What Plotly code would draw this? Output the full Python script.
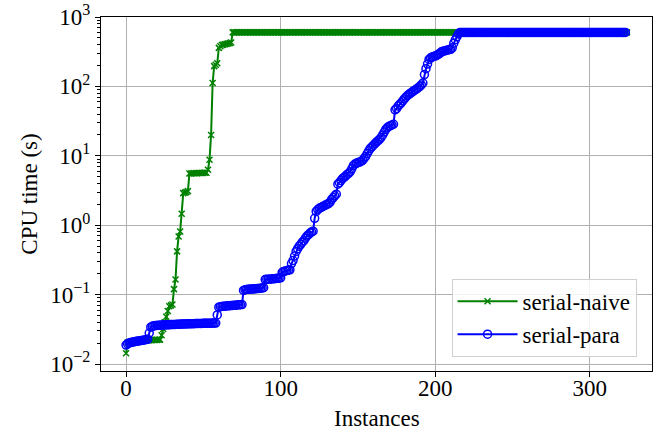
import plotly.graph_objects as go

# serial-naive: sorted CPU times (s), one per instance index
naive_times = (
    [0.0143]
    + [0.0205, 0.0207, 0.0209, 0.0210, 0.0211, 0.0212, 0.0213, 0.0214, 0.0215, 0.0216, 0.0217,
       0.0218, 0.0219, 0.0220, 0.0221, 0.0221, 0.0222, 0.0222, 0.0223, 0.0223, 0.0224, 0.0225]
    + [0.026, 0.032, 0.040, 0.048, 0.058, 0.068, 0.070, 0.072, 0.12, 0.165, 0.42, 0.69, 0.81, 1.46,
       2.9, 2.95, 3.0, 3.1]
    + [5.55, 5.58, 5.6, 5.6, 5.62, 5.63, 5.65, 5.65, 5.66, 5.68, 5.7, 5.72]
    + [6.3, 8.8, 20, 112, 196, 205, 215, 359, 380, 395, 400, 405, 410, 415, 420, 430]
    + [600] * 256
)

# serial-para: sorted CPU times (s)
para_times = (
    [0.0188, 0.0196, 0.0201, 0.0204, 0.0207, 0.0209, 0.0211, 0.0213, 0.0215, 0.0217, 0.0219,
     0.0221, 0.0223, 0.0225, 0.0227, 0.028]
    + [0.0340, 0.0350, 0.0355, 0.0358, 0.0360, 0.0362, 0.0363, 0.0364, 0.0365, 0.0366, 0.0367,
       0.0368, 0.0369, 0.0370, 0.0371, 0.0372, 0.0373, 0.0374, 0.0375, 0.0376, 0.0377, 0.0378,
       0.0378, 0.0379, 0.0380, 0.0380, 0.0381, 0.0382, 0.0382, 0.0383, 0.0384, 0.0384, 0.0385,
       0.0385, 0.0386, 0.0386, 0.0387, 0.0387, 0.0388, 0.0388, 0.0389, 0.0389, 0.0390]
    + [0.051, 0.066, 0.067, 0.0675, 0.068, 0.0683, 0.0686, 0.069, 0.0693, 0.0696, 0.070, 0.0703,
       0.0706, 0.071, 0.0713, 0.0716, 0.072]
    + [0.115, 0.118, 0.119, 0.1195, 0.120, 0.1205, 0.121, 0.1215, 0.122, 0.1225, 0.123, 0.124,
       0.125, 0.126]
    + [0.165, 0.166, 0.167, 0.167, 0.168, 0.169, 0.170, 0.171, 0.172, 0.173, 0.175]
    + [0.21, 0.215, 0.22, 0.222, 0.225, 0.228, 0.28, 0.31, 0.36, 0.42, 0.46, 0.50, 0.53, 0.57,
       0.60, 0.65, 0.70, 0.73, 0.77, 0.80, 0.82, 1.26, 1.58, 1.68, 1.75, 1.80, 1.85, 1.90, 1.95,
       2.0, 2.05, 2.15, 2.35, 2.5, 2.65, 2.8, 3.9, 4.1, 4.4, 4.7, 4.9, 5.1, 5.4, 5.6, 5.9, 6.5,
       7.2, 7.6, 7.8, 8.0, 8.1, 8.3, 8.6, 9.2, 9.8, 10.8, 11.8, 12.8, 13.5, 14.2, 15.0, 15.8,
       16.5, 17.3, 18.5, 20.0, 22.0, 24.0, 25.5, 26.5, 27.2, 27.8, 28.5, 46, 48, 52, 55, 58, 62,
       66, 70, 74, 77, 80, 83, 86, 89, 92, 96, 100, 105, 112, 148, 180, 210, 245, 258, 265, 270,
       274, 280, 290, 300, 315, 320, 325, 330, 335, 338, 342, 360, 420, 470, 520, 570]
    + [600] * 108
)

naive_x = list(range(len(naive_times)))
para_x = list(range(len(para_times)))

x_ticks = [0, 100, 200, 300]
y_ticks = [1e-2, 1e-1, 1e0, 1e1, 1e2, 1e3]
y_ticktext = ["10<sup>\u22122</sup>", "10<sup>\u22121</sup>", "10<sup>0</sup>",
              "10<sup>1</sup>", "10<sup>2</sup>", "10<sup>3</sup>"]
y_minor = [m * 10 ** e for e in range(-2, 3) for m in range(2, 10)]

FONT = "Liberation Serif"
FS = 23

fig = go.Figure()
fig.add_trace(go.Scatter(
    x=naive_x, y=naive_times, mode="lines+markers", name="serial-naive",
    legendgroup="a",
    line=dict(color="#008000", width=2),
    marker=dict(symbol="x-thin-open", size=6, color="#008000",
                line=dict(color="#008000", width=1.5)),
))
fig.add_trace(go.Scatter(
    x=para_x, y=para_times, mode="lines+markers", name="serial-para",
    legendgroup="b",
    line=dict(color="#0000ff", width=2),
    marker=dict(symbol="circle-open", size=8, color="#0000ff",
                line=dict(color="#0000ff", width=1.5)),
))

fig.update_layout(
    width=662, height=432,
    margin=dict(l=101, r=10, t=17, b=61),
    paper_bgcolor="white", plot_bgcolor="white",
    font=dict(family=FONT, size=FS, color="black"),
    showlegend=True,
    legend=dict(
        x=0.972, y=0.04, xanchor="right", yanchor="bottom",
        bgcolor="rgba(255,255,255,0.85)", bordercolor="#d0d0d0", borderwidth=1,
        font=dict(family=FONT, size=FS), tracegroupgap=0, itemwidth=60,
        traceorder="grouped",
    ),
    xaxis=dict(
        range=[-16.2, 340.2], tickvals=x_ticks, ticks="outside", ticklen=5, tickwidth=1.1,
        tickcolor="black", showline=True, linecolor="black", linewidth=1.1, mirror=True,
        showgrid=True, gridcolor="#b0b0b0", gridwidth=1, zeroline=False, automargin=False,
        ticklabelstandoff=-9, tickfont=dict(family=FONT, size=FS),
    ),
    yaxis=dict(
        type="log", range=[-2.1, 3.0], tickvals=y_ticks, ticktext=y_ticktext,
        ticks="outside", ticklen=5, tickwidth=1.1, tickcolor="black",
        showline=True, linecolor="black", linewidth=1.1, mirror=True,
        showgrid=True, gridcolor="#b0b0b0", gridwidth=1, zeroline=False, automargin=False,
        ticklabeloverflow="allow",
        minor=dict(tickvals=y_minor, ticks="outside", ticklen=3, tickwidth=0.8,
                   tickcolor="black", showgrid=False),
        title=dict(text="CPU time (s)", standoff=6, font=dict(family=FONT, size=FS)),
        tickfont=dict(family=FONT, size=FS),
    ),
    annotations=[dict(
        text="Instances", xref="paper", yref="paper", x=0.5, y=-0.133,
        xanchor="center", yanchor="middle", showarrow=False,
        font=dict(family=FONT, size=FS, color="black"),
    )],
)

fig.write_html("out.html", config={"displayModeBar": False},
               post_script="document.body.style.margin='0';")
